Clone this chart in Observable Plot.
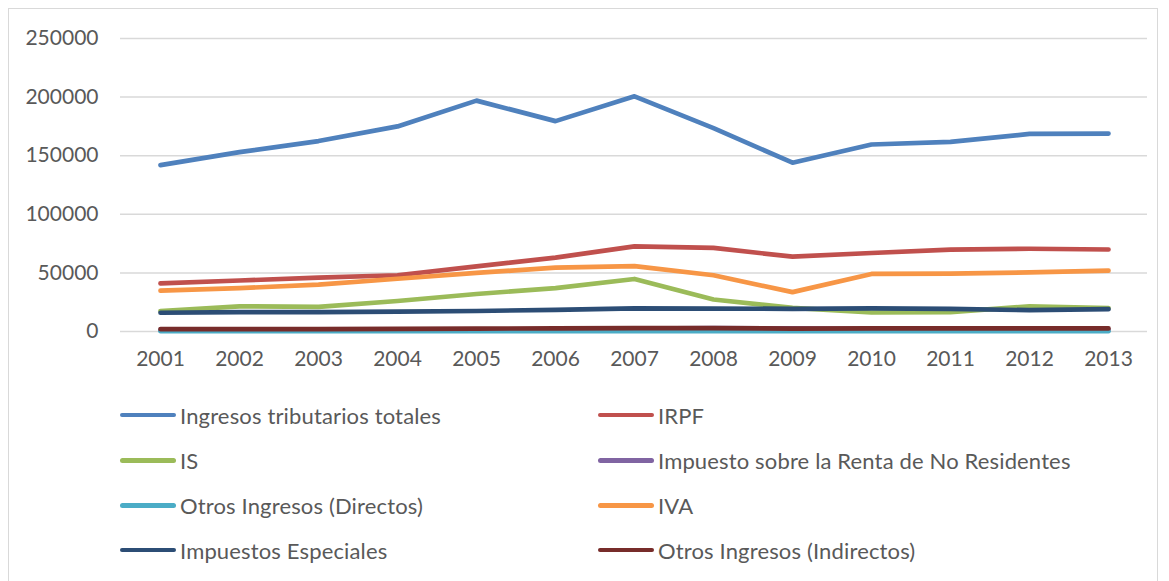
<!DOCTYPE html>
<html>
<head>
<meta charset="utf-8">
<script src="https://cdn.jsdelivr.net/npm/d3@7"></script>
<script src="https://cdn.jsdelivr.net/npm/@observablehq/plot@0.6"></script>
<style>
  html, body { margin: 0; padding: 0; background: #fff; }
  #chart { position: relative; width: 1169px; height: 581px; overflow: hidden; font-family: Lato, "Noto Sans", sans-serif; }
  #frame { position: absolute; left: 8px; top: 8px; width: 1150px; height: 620px; border: 1.5px solid #d9d9d9; box-sizing: border-box; }
  #plot { position: absolute; left: 0; top: 0; }
  .legend-item { position: absolute; display: flex; align-items: center; color: #595959; font-size: 22px; letter-spacing: 0.15px; white-space: nowrap; }
  .legend-item .sw { width: 56px; height: 4.5px; border-radius: 3px; margin-right: 4px; }
</style>
</head>
<body>
<div id="chart">
  <div id="frame"></div>
  <div id="plot"></div>
</div>
<script>
// Years on the category axis
const years = ["2001", "2002", "2003", "2004", "2005", "2006", "2007", "2008", "2009", "2010", "2011", "2012", "2013"];

// Series names, in legend order
const seriesNames = [
  "Ingresos tributarios totales",
  "IRPF",
  "IS",
  "Impuesto sobre la Renta de No Residentes",
  "Otros Ingresos (Directos)",
  "IVA",
  "Impuestos Especiales",
  "Otros Ingresos (Indirectos)"
];

// Values per series (millones de euros)
const totales     = [142000, 153000, 162500, 175000, 197000, 179500, 200676, 173532, 144023, 159535, 161760, 168567, 168847];
const irpf        = [41000, 43500, 46000, 48000, 55500, 63000, 72614, 71341, 63857, 66977, 69803, 70619, 69951];
const is          = [17500, 21500, 21000, 26000, 32000, 37000, 44823, 27301, 20188, 16198, 16611, 21435, 19945];
const irnr        = [1500, 1700, 1600, 1400, 1300, 1500, 2400, 2800, 2700, 2000, 2000, 1700, 1500];
const otrosDir    = [300, 300, 300, 300, 300, 300, 300, 300, 300, 300, 300, 300, 300];
const iva         = [34800, 37000, 40000, 45000, 50000, 54500, 55850, 48021, 33567, 49086, 49302, 50464, 51931];
const especiales  = [16000, 16500, 16500, 17000, 17500, 18500, 19786, 19570, 19349, 19806, 19256, 18209, 19073];
const otrosIndir  = [2000, 2000, 2100, 2200, 2500, 2600, 2800, 2800, 2500, 2600, 2700, 2700, 2600];

const seriesValues = [totales, irpf, is, irnr, otrosDir, iva, especiales, otrosIndir];

// Y axis ticks
const yTicks = [0, 50000, 100000, 150000, 200000, 250000];

// Office palette
const colors = ["#4F81BD", "#C0504D", "#9BBB59", "#8064A2", "#4BACC6", "#F79646", "#2C4D75", "#772C2A"];

const rows = seriesNames.map((name, i) =>
  years.map((year, j) => ({ series: name, year, value: seriesValues[i][j] }))
);

const textColor = "#595959";
const gridColor = "#d9d9d9";

const plot = Plot.plot({
  width: 1169,
  height: 380,
  marginLeft: 120,
  marginRight: 22,
  marginTop: 38,
  marginBottom: 49,
  style: { fontFamily: "Lato, 'Noto Sans', sans-serif", fontSize: "21px", color: textColor, background: "transparent" },
  x: { type: "point", domain: years, padding: 0.5 },
  y: { domain: [0, 250000], ticks: yTicks },
  color: { domain: seriesNames, range: colors },
  marks: [
    Plot.gridY(yTicks, { stroke: gridColor, strokeOpacity: 1, strokeWidth: 1.5 }),
    Plot.axisY(yTicks, { tickSize: 0, tickPadding: 22, label: null, tickFormat: d => String(d), fill: textColor }),
    Plot.axisX({ tickSize: 0, tickPadding: 20, label: null, fill: textColor }),
    ...rows.map(data => Plot.line(data, {
      x: "year",
      y: "value",
      stroke: "series",
      strokeWidth: 4.7,
      strokeLinecap: "round",
      strokeLinejoin: "round"
    }))
  ]
});
document.getElementById("plot").appendChild(plot);

// Legend: two columns, four rows
const chart = document.getElementById("chart");
const colX = [120, 598];
const rowY = [415, 460.5, 505.5, 550];
seriesNames.forEach((name, i) => {
  const item = document.createElement("div");
  item.className = "legend-item";
  item.style.left = colX[i % 2] + "px";
  item.style.top = (rowY[Math.floor(i / 2)] - 14) + "px";
  item.style.height = "28px";
  const sw = document.createElement("div");
  sw.className = "sw";
  sw.style.background = colors[i];
  const label = document.createElement("span");
  label.textContent = name;
  item.appendChild(sw);
  item.appendChild(label);
  chart.appendChild(item);
});
</script>
</body>
</html>
